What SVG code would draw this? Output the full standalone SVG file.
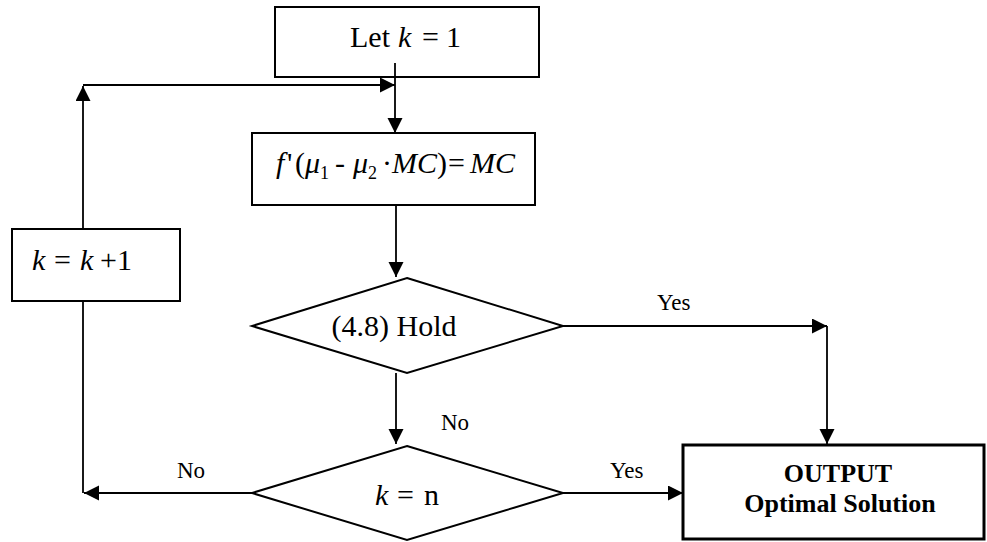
<svg xmlns="http://www.w3.org/2000/svg" width="987" height="542" viewBox="0 0 987 542">
<style>
.box{fill:#fff;stroke:#000;stroke-width:2}
.thick{fill:#fff;stroke:#000;stroke-width:3}
.conn{fill:none;stroke:#000;stroke-width:1.8}
.serif{font-family:"Liberation Serif","Times New Roman",serif;fill:#000}
.big{font-size:30px}
.lbl{font-size:23px}
.bold{font-size:26px;font-weight:bold}
.i{font-style:italic}
.sub{font-size:18px}
</style>
<defs>
<marker id="arr" markerUnits="userSpaceOnUse" markerWidth="16" markerHeight="16" refX="15" refY="7.5" orient="auto">
<path d="M0,0 L15,7.5 L0,15 z" fill="#000"/>
</marker>
</defs>
<g id="start">
<rect class="box" x="275" y="7" width="264" height="70"/>
<text class="serif big" x="350" y="47" font-family="Liberation Serif, serif">Let <tspan class="i" x="398">k</tspan><tspan x="422">=</tspan><tspan x="446">1</tspan></text>
</g>
<g id="compute">
<rect class="box" x="252" y="133" width="283" height="72"/>
<text class="serif big" y="173" font-family="Liberation Serif, serif" font-size="29"><tspan class="i" x="276">f</tspan><tspan x="287">'</tspan><tspan x="295">(</tspan><tspan class="i" x="305">μ</tspan><tspan class="sub" x="320" dy="6">1</tspan><tspan x="335" dy="-6">-</tspan><tspan class="i" x="353">μ</tspan><tspan class="sub" x="368" dy="6">2</tspan><tspan x="382" dy="-6">·</tspan><tspan class="i" x="392">MC</tspan><tspan x="437">)</tspan><tspan x="448">=</tspan><tspan class="i" x="470">MC</tspan></text>
</g>
<g id="increment">
<rect class="box" x="12" y="229" width="168" height="72"/>
<text class="serif big" x="32" y="270" font-family="Liberation Serif, serif"><tspan class="i">k</tspan><tspan x="54">=</tspan><tspan class="i" x="80">k</tspan><tspan x="100">+1</tspan></text>
</g>
<g id="hold">
<polygon class="box" points="407,278 563,326 407,373 252,326"/>
<text class="serif big" x="394" y="336" text-anchor="middle" font-family="Liberation Serif, serif">(4.8) Hold</text>
</g>
<g id="check">
<polygon class="box" points="407,446 563,493 407,540 252,493"/>
<text class="serif big" x="375" y="505" font-family="Liberation Serif, serif"><tspan class="i">k</tspan><tspan x="397">=</tspan><tspan x="424">n</tspan></text>
</g>
<g id="output">
<rect class="thick" x="683" y="445" width="301" height="94"/>
<text class="serif bold" x="838" y="482" text-anchor="middle" font-family="Liberation Serif, serif">OUTPUT</text>
<text class="serif bold" x="840" y="512" text-anchor="middle" font-family="Liberation Serif, serif">Optimal Solution</text>
</g>
<g id="connectors">
<path class="conn" d="M395,63 L395,133" marker-end="url(#arr)"/>
<path class="conn" d="M83,229 L83,86" marker-end="url(#arr)"/>
<path class="conn" d="M83,85 L395,85" marker-end="url(#arr)"/>
<path class="conn" d="M396,205 L396,277" marker-end="url(#arr)"/>
<path class="conn" d="M563,326 L827,326" marker-end="url(#arr)"/>
<path class="conn" d="M827,326 L827,444" marker-end="url(#arr)"/>
<path class="conn" d="M396,373 L396,444" marker-end="url(#arr)"/>
<path class="conn" d="M563,493 L683,493" marker-end="url(#arr)"/>
<path class="conn" d="M252,493 L84,493" marker-end="url(#arr)"/>
<path class="conn" d="M83,493 L83,301"/>
<text class="serif lbl" x="657" y="310" font-family="Liberation Serif, serif">Yes</text>
<text class="serif lbl" x="441" y="430" font-family="Liberation Serif, serif">No</text>
<text class="serif lbl" x="610" y="478" font-family="Liberation Serif, serif">Yes</text>
<text class="serif lbl" x="177" y="478" font-family="Liberation Serif, serif">No</text>
</g>
</svg>
